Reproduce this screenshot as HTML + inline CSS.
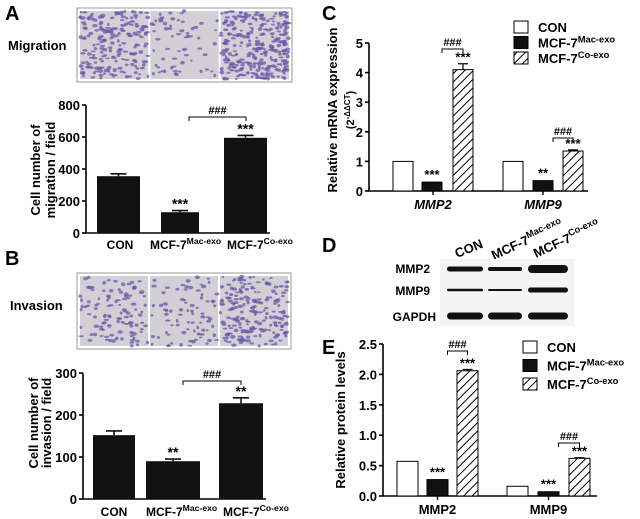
<!DOCTYPE html>
<html><head><meta charset="utf-8">
<style>
html,body{margin:0;padding:0;background:#fff;}
svg{display:block;font-family:"Liberation Sans",Arial,sans-serif;}
text{font-weight:bold;}
</style></head>
<body>
<svg id="fig" width="640" height="519" viewBox="0 0 640 519" xmlns="http://www.w3.org/2000/svg">
<defs>
<pattern id="hatch" patternUnits="userSpaceOnUse" width="6" height="6" patternTransform="rotate(45)">
<rect width="6" height="6" fill="#fff"/><line x1="0" y1="0" x2="0" y2="6" stroke="#000" stroke-width="2"/>
</pattern>
</defs>
<g id="root"></g>
</svg>
<script>
// Panel A data
const catsA = ["CON","MCF-7","MCF-7"];
const supA = ["","Mac-exo","Co-exo"];
const valsA = [355, 130, 595];
const errA = [15, 10, 15];
const starsA = ["", "***", "***"];
const ticksA = [0, 200, 400, 600, 800];
// Panel B data
const valsB = [152, 90, 228];
const errB = [10, 5, 13];
const starsB = ["", "**", "**"];
const ticksB = [0, 100, 200, 300];
// Panel C data
const genesC = ["MMP2","MMP9"];
const conC = [1, 1];
const macC = [0.3, 0.35];
const coC = [4.1, 1.35];
const errCoC = [0.2, 0.04];
const errMacC = [0.04, 0.02];
const starsMacC = ["***","**"];
const starsCoC = ["***","***"];
const ticksC = [0,1,2,3,4,5];
// Panel E data
const genesE = ["MMP2","MMP9"];
const conE = [0.57, 0.16];
const macE = [0.27, 0.07];
const coE = [2.06, 0.62];
const errCoE = [0.02, 0.01];
const starsMacE = ["***","***"];
const starsCoE = ["***","***"];
const ticksE = ["0.0","0.5","1.0","1.5","2.0","2.5"];

const NS = "http://www.w3.org/2000/svg";
const root = document.getElementById('root');
function mk(tag, attrs, parent, txt){
  const e = document.createElementNS(NS, tag);
  for (const k in attrs) e.setAttribute(k, attrs[k]);
  if (txt !== undefined) e.textContent = txt;
  (parent||root).appendChild(e);
  return e;
}
function label(x,y,str,size,anchor,name,rot){
  const t = mk('text',{x:x,y:y,'font-size':size,'text-anchor':anchor||'middle'});
  if (rot) t.setAttribute('transform','rotate('+rot+' '+x+' '+y+')');
  t.textContent = str;
  
  
  return t;
}
function supLabel(x,y,base,sup,size,anchor,name,rot){
  const t = mk('text',{x:x,y:y,'font-size':size,'text-anchor':anchor||'middle'});
  if (rot) t.setAttribute('transform','rotate('+rot+' '+x+' '+y+')');
  
  
  const a = document.createElementNS(NS,'tspan'); a.textContent = base; t.appendChild(a);
  if (sup){
    const b = document.createElementNS(NS,'tspan');
    b.setAttribute('dy', -size*0.4); b.setAttribute('font-size', size*0.72);
    b.textContent = sup; t.appendChild(b);
  }
  return t;
}
function yAxis(x, y0, y1, ticks, maxV, fs, name){
  const g = mk('g',{});
  
  
  mk('line',{x1:x,y1:y0,x2:x,y2:y1,stroke:'#000','stroke-width':1.6},g);
  ticks.forEach(tv=>{
    const v = parseFloat(tv);
    const y = y0 - (v/maxV)*(y0-y1);
    mk('line',{x1:x-4,y1:y,x2:x,y2:y,stroke:'#000','stroke-width':1.6},g);
    const t = mk('text',{x:x-6,y:y+5,'font-size':fs,'text-anchor':'end'},g,String(tv));
    
    
  });
}
function bracket(x1,x2,y,name){
  const p = mk('path',{d:'M'+x1+' '+(y+4)+' V'+y+' H'+x2+' V'+(y+4),fill:'none',stroke:'#000','stroke-width':1});
  
  
  label((x1+x2)/2, y-3, '###', 11, 'middle', name+'-label');
}
function micro(x,y,w,h,dens,seed,name){
  const g = mk('g',{});
  
  
  mk('rect',{x:x,y:y,width:w,height:h,fill:'#d2d0d6'},g);
  let s = seed;
  function r(){ s = (s*9301+49297)%233280; return s/233280; }
  for(let i=0;i<dens;i++){
    mk('ellipse',{cx:x+r()*w,cy:y+r()*h,rx:1.3+r()*1.5,ry:0.9+r()*1,fill:'#6a5aa8',opacity:0.75},g);
  }
}
function imgPanel(x,y,w,h,dens,seed,name){
  const b = mk('rect',{x:x,y:y,width:w,height:h,fill:'#fff',stroke:'#999','stroke-width':1});
  
  
  const iw = (w-10)/3;
  for(let i=0;i<3;i++) micro(x+3+i*(iw+2), y+3, iw, h-6, dens[i], seed+i*17, name+'-image-'+(i+1));
}

// ---------- Panel A ----------
label(5,20,'A',20,'start','panel-a-letter');
label(8,50,'Migration',13,'start','migration-label');
imgPanel(77,8,215,74,[200,60,300],11,'migration-images');
(function(){
  const x0=86, y0=233, y1=105, maxV=800;
  const ys = v => y0 - v/maxV*(y0-y1);
  yAxis(x0,y0,y1,ticksA,maxV,13,'panel-a-y-axis');
  const xl=[97,161,224], w=[43,38,43];
  const lx=[[120,'middle'],[150,'start'],[227,'start']];
  mk('line',{x1:x0,y1:y0,x2:270,y2:y0,stroke:'#000','stroke-width':1.6});
  valsA.forEach((v,i)=>{
    const b = mk('rect',{x:xl[i],y:ys(v),width:w[i],height:y0-ys(v),fill:'#111'});
    
    
    const cx = xl[i]+w[i]/2, ye = ys(v+errA[i]);
    mk('path',{d:'M'+cx+' '+ys(v)+' V'+ye+' M'+(cx-8)+' '+ye+' H'+(cx+8),stroke:'#111','stroke-width':1.6,fill:'none'});
    if (starsA[i]) label(cx, ye-2, starsA[i], 14, 'middle', 'stars-a-'+i);
    supLabel(lx[i][0], 249, catsA[i], supA[i], 12, lx[i][1], 'x-label-a-'+i);
  });
  bracket(189,246,117,'sig-bracket-a');
  label(40,170,'Cell number of',13,'middle','y-title-a-1',-90);
  label(55,170,'migration / field',13,'middle','y-title-a-2',-90);
})();

// ---------- Panel B ----------
label(5,265,'B',20,'start','panel-b-letter');
label(10,310,'Invasion',13,'start','invasion-label');
imgPanel(77,273,214,76,[110,80,200],41,'invasion-images');
(function(){
  const x0=83, y0=499, y1=373, maxV=300;
  const ys = v => y0 - v/maxV*(y0-y1);
  yAxis(x0,y0,y1,ticksB,maxV,13,'panel-b-y-axis');
  const xl=[93,146,219], w=[42,54,44];
  const lx=[[114,'middle'],[146,'start'],[223,'start']];
  mk('line',{x1:x0,y1:y0,x2:266,y2:y0,stroke:'#000','stroke-width':1.6});
  valsB.forEach((v,i)=>{
    const b = mk('rect',{x:xl[i],y:ys(v),width:w[i],height:y0-ys(v),fill:'#111'});
    
    
    const cx = xl[i]+w[i]/2, ye = ys(v+errB[i]);
    mk('path',{d:'M'+cx+' '+ys(v)+' V'+ye+' M'+(cx-8)+' '+ye+' H'+(cx+8),stroke:'#111','stroke-width':1.6,fill:'none'});
    if (starsB[i]) label(cx, ye-2, starsB[i], 14, 'middle', 'stars-b-'+i);
    supLabel(lx[i][0], 516, catsA[i], supA[i], 12, lx[i][1], 'x-label-b-'+i);
  });
  bracket(183,241,381,'sig-bracket-b');
  label(38,423,'Cell number of',13,'middle','y-title-b-1',-90);
  label(51,423,'invasion / field',13,'middle','y-title-b-2',-90);
})();

// grouped chart
function grouped(o){
  const ys = v => o.y0 - v/o.maxV*(o.y0-o.y1);
  yAxis(o.x0,o.y0,o.y1,o.ticks,o.maxV,13,o.p+'-y-axis');
  mk('line',{x1:o.x0,y1:o.y0,x2:o.xend,y2:o.y0,stroke:'#000','stroke-width':1.6});
  o.genes.forEach((g,gi)=>{
    const series=[o.con,o.mac,o.co], fills=['#fff','#111','url(#hatch)'];
    series.forEach((arr,si)=>{
      const x = o.xs[gi][si], v = arr[gi];
      const b = mk('rect',{x:x,y:ys(v),width:o.bw,height:o.y0-ys(v),fill:fills[si],stroke:'#000','stroke-width':1});
      
      
    });
    const cxC = o.xs[gi][2]+o.bw/2, yc = ys(o.co[gi]+o.errCo[gi]);
    mk('path',{d:'M'+cxC+' '+ys(o.co[gi])+' V'+yc+' M'+(cxC-5)+' '+yc+' H'+(cxC+5),stroke:'#000','stroke-width':1.2,fill:'none'});
    label(cxC, yc-2, o.starsCo[gi], 13, 'middle', o.p+'-stars-co-'+g);
    const cxM = o.xs[gi][1]+o.bw/2;
    label(cxM, ys(o.mac[gi])-3, o.starsMac[gi], 13, 'middle', o.p+'-stars-mac-'+g);
    const gx = (o.xs[gi][0]+o.xs[gi][2]+o.bw)/2;
    mk('line',{x1:gx,y1:o.y0,x2:gx,y2:o.y0+4,stroke:'#000','stroke-width':1.4});
    const t = label(gx, o.y0+18, g, 13, 'middle', o.p+'-x-label-'+g);
    if (o.italic) t.setAttribute('font-style','italic');
    bracket(cxM+10, cxC, o.brY[gi], o.p+'-sig-bracket-'+g);
  });
  // legend
  const names=[['CON',''],['MCF-7','Mac-exo'],['MCF-7','Co-exo']], fills=['#fff','#111','url(#hatch)'];
  names.forEach((n,i)=>{
    const y=o.leg[1]+i*o.legStep;
    const r = mk('rect',{x:o.leg[0],y:y-6,width:14,height:12,fill:fills[i],stroke:'#000','stroke-width':1});
    
    
    supLabel(o.leg[0]+24, y+5, n[0], n[1], 13, 'start', o.p+'-legend-entry-'+i);
  });
}

// ---------- Panel C ----------
label(322,20,'C',20,'start','panel-c-letter');
grouped({p:'c',x0:369,y0:191,y1:43,maxV:5,ticks:ticksC,xend:588,genes:genesC,
  con:conC,mac:macC,co:coC,errCo:errCoC,starsMac:starsMacC,starsCo:starsCoC,
  xs:[[393,422,453],[503,533,563]],bw:20,brY:[49,138],italic:true,leg:[514,27],legStep:15.5});
label(337,110,'Relative mRNA expression',13,'middle','y-title-c-1',-90);
(function(){
  const t = mk('text',{x:354,y:110,'font-size':11,'text-anchor':'middle',transform:'rotate(-90 354 110)'});
  
  
  t.innerHTML = '(2<tspan dy="-4" font-size="8">-ΔΔCT</tspan><tspan dy="4">)</tspan>';
})();

// ---------- Panel D ----------
label(322,252,'D',20,'start','panel-d-letter');
label(457,258,'CON',13,'start','blot-lane-con',-22);
supLabel(494,260,'MCF-7','Mac-exo',13,'start','blot-lane-mac',-25);
supLabel(536,258,'MCF-7','Co-exo',13,'start','blot-lane-co',-25);
label(430,273,'MMP2',12,'end','blot-row-mmp2');
label(430,295,'MMP9',12,'end','blot-row-mmp9');
label(436,321,'GAPDH',12,'end','blot-row-gapdh');
(function(){
  const g = mk('g',{});
  
  
  mk('rect',{x:440,y:259,width:134,height:67,fill:'#f4f4f4'},g);
  const lanes=[[447,36],[488,34],[528,40]];
  const rows=[[269,[5,4,8]],[290,[2.5,2,5]],[316,[7,7,7]]];
  rows.forEach(r=>lanes.forEach((l,i)=>{
    mk('rect',{x:l[0],y:r[0]-r[1][i]/2,width:l[1],height:r[1][i],rx:r[1][i]/2,fill:'#111'},g);
  }));
})();

// ---------- Panel E ----------
label(322,354,'E',20,'start','panel-e-letter');
grouped({p:'e',x0:383,y0:496,y1:344,maxV:2.5,ticks:ticksE,xend:597,genes:genesE,
  con:conE,mac:macE,co:coE,errCo:errCoE,starsMac:starsMacE,starsCo:starsCoE,
  xs:[[397,427,457],[507,538,569]],bw:21,brY:[351,443],italic:false,leg:[523,347],legStep:18.5});
label(345,420,'Relative protein levels',13,'middle','y-title-e',-90);
</script>
</body></html>
